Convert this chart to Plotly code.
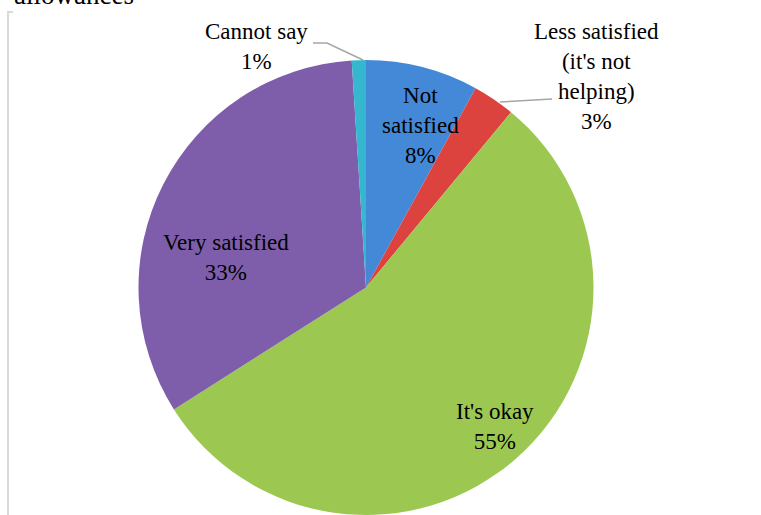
import plotly.graph_objects as go

W, H = 761, 515

# Survey answers, in the order the slices run clockwise from 12 o'clock
categories = ["Not satisfied", "Less satisfied (it's not helping)", "It's okay",
              "Very satisfied", "Cannot say"]
values = [8, 3, 55, 33, 1]
slice_colors = ["#4389d8", "#dc433e", "#9cc852", "#7e5eaa", "#35b7cf"]

# Label text per slice (line breaks as shown)
label_lines = {
    "Not satisfied": ["Not", "satisfied"],
    "Less satisfied (it's not helping)": ["Less satisfied", "(it's not", "helping)"],
    "It's okay": ["It's okay"],
    "Very satisfied": ["Very satisfied"],
    "Cannot say": ["Cannot say"],
}
# label block centres in pixels (x, y from top)
label_pos = {
    "Not satisfied": (420, 126),
    "Less satisfied (it's not helping)": (596, 76),
    "It's okay": (495, 426),
    "Very satisfied": (226, 257),
    "Cannot say": (256, 46),
}


def px(x):
    return x / W


def py(y):
    return 1 - y / H


# pie geometry in pixels
cx, top, bottom = 366, 60, 515
r = (bottom - top) / 2

fig = go.Figure()
fig.add_trace(go.Pie(
    labels=categories,
    values=values,
    sort=False,
    direction="clockwise",
    rotation=0,
    marker=dict(colors=slice_colors, line=dict(width=0)),
    textinfo="none",
    hoverinfo="skip",
    showlegend=False,
    domain=dict(x=[px(cx - r), px(cx + r)], y=[py(bottom), py(top)]),
))

font = dict(family="Liberation Serif, Times New Roman, serif", size=23, color="#000000")

annotations = []
for cat, v in zip(categories, values):
    lines = label_lines[cat] + [f"{v}%"]
    x, y = label_pos[cat]
    annotations.append(dict(
        x=px(x), y=py(y), xref="paper", yref="paper",
        text="<br>".join(lines), showarrow=False,
        xanchor="center", yanchor="middle", align="center", font=font,
    ))

# heading above the chart frame, running off the top edge
annotations.append(dict(
    x=px(12), y=py(12), xref="paper", yref="paper", text="allowances",
    showarrow=False, xanchor="left", yanchor="bottom",
    font=dict(family="Liberation Serif, Times New Roman, serif", size=27, color="#000000"),
))

line_col = "#a6a6a6"
shapes = [
    # leader line for "Cannot say"
    dict(type="path", xref="paper", yref="paper",
         path=f"M {px(313)} {py(43)} L {px(327)} {py(43)} L {px(363)} {py(60)}",
         line=dict(color=line_col, width=1.5)),
    # leader line for "Less satisfied"
    dict(type="line", xref="paper", yref="paper",
         x0=px(500), y0=py(102), x1=px(552), y1=py(99),
         line=dict(color=line_col, width=1.5)),
    # chart frame (left edge and top corner)
    dict(type="path", xref="paper", yref="paper",
         path=f"M {px(8)} {py(516)} L {px(8)} {py(12)} L {px(13)} {py(12)}",
         line=dict(color="#d9d9d9", width=2)),
]

fig.update_layout(
    width=W, height=H,
    margin=dict(l=0, r=0, t=0, b=0),
    paper_bgcolor="white",
    plot_bgcolor="white",
    annotations=annotations,
    shapes=shapes,
)

fig.write_html("out.html")
